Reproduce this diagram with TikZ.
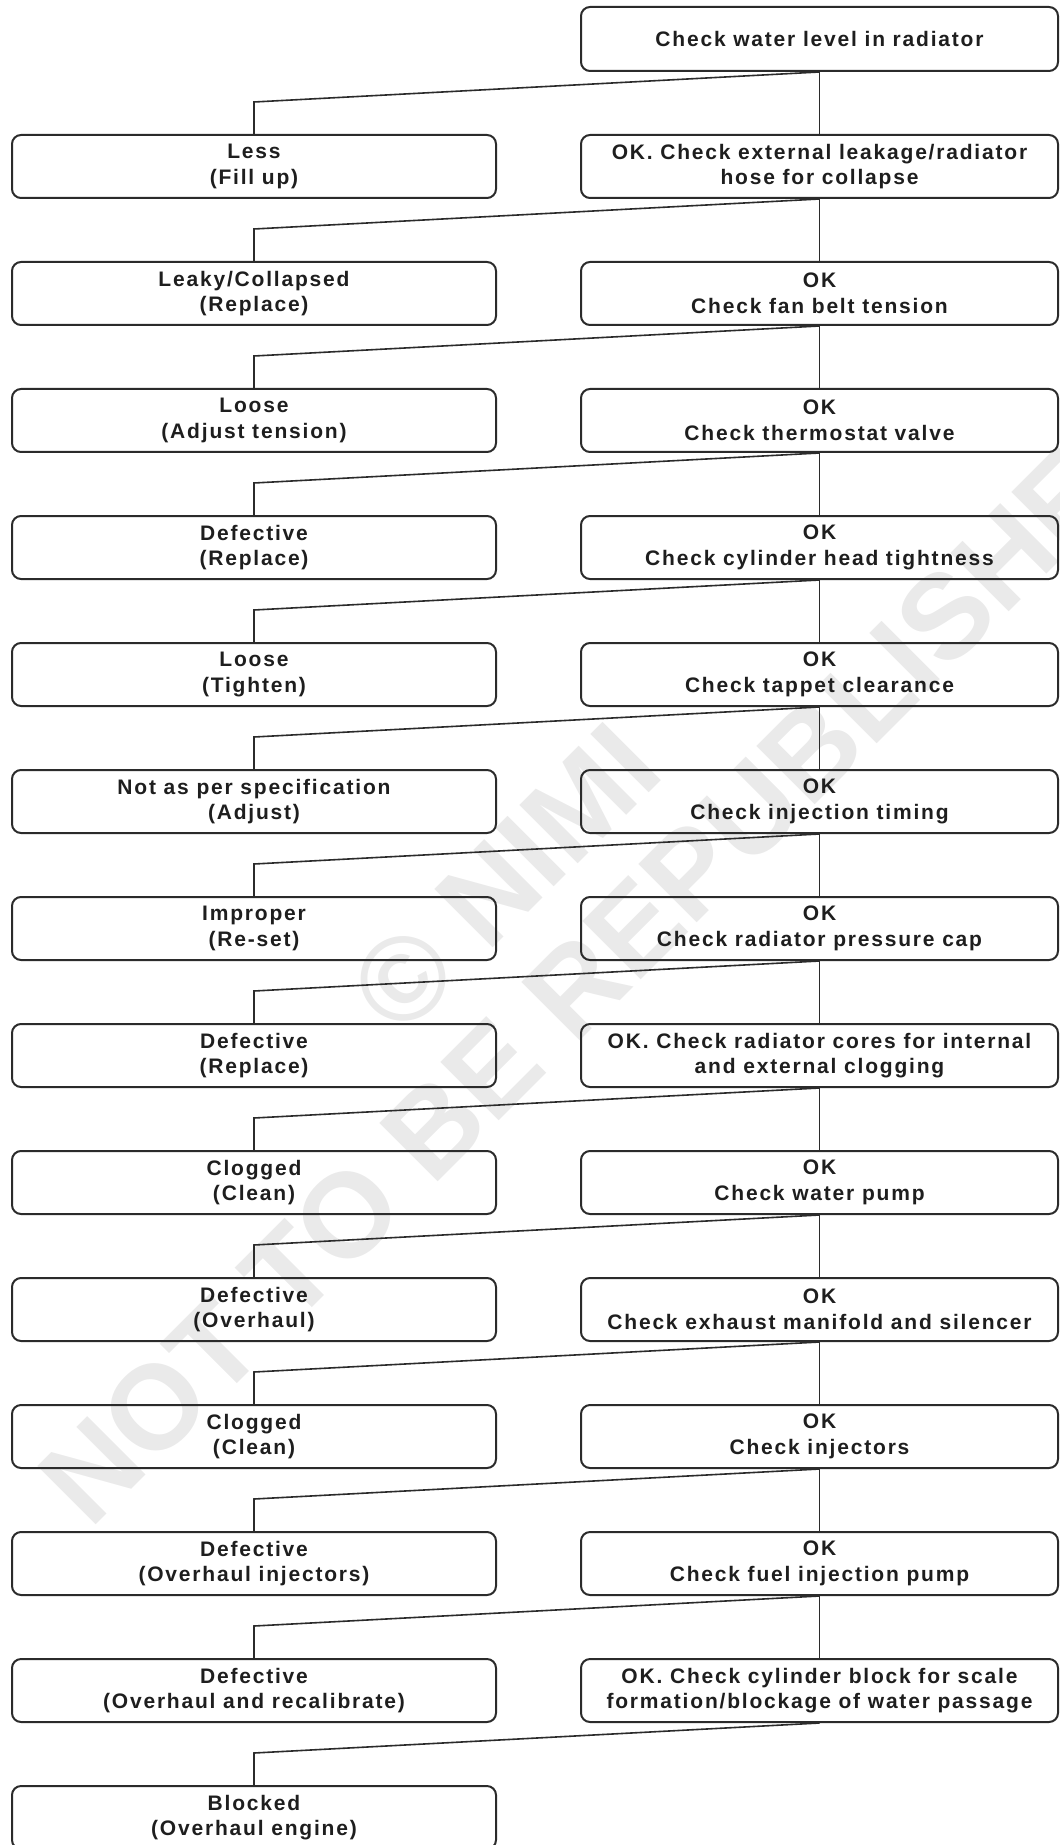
\documentclass[tikz,border=0pt]{standalone}
\usepackage{fontspec}
\usetikzlibrary{calc}
\newfontfamily\chartfont{Liberation Sans}[LetterSpace=8.6]
\newfontfamily\markfont{Liberation Sans}
\definecolor{inkline}{HTML}{2B2B2B}
\definecolor{inktext}{HTML}{1E1E1E}
\definecolor{markgray}{HTML}{EAEAEA}

\begin{document}
\begin{tikzpicture}[x=0.5pt, y=-0.5pt,
  box/.style={draw=inkline, line width=1pt, rounded corners=4.5pt,
    minimum height=31.5pt, inner sep=0pt, align=center, text=inktext,
    font={\chartfont\bfseries\fontsize{10.5pt}{12.8pt}\selectfont}},
  leftbox/.style={box, minimum width=242pt},
  rightbox/.style={box, minimum width=238.5pt},
  link/.style={draw=inkline, line width=0.8pt},
  wmark/.style={rotate=45, inner sep=0pt, text=markgray,
    font={\markfont\bfseries\fontsize{60pt}{60pt}\selectfont}}]

\useasboundingbox (0,0) rectangle (1059,1845);
\clip (0,0) rectangle (1059,1845);

% background watermark
\node[wmark] (wmA) at (505,878) {© NIMI};
\node[wmark] (wmB) at (607,955) {NOT TO BE REPUBLISHED};

% checks (right column)
\node[rightbox, minimum height=32pt] (c0) at (819.5,39) {Check water level in radiator};
\node[rightbox] (c1)  at (819.5,166.5)  {OK. Check external leakage/radiator\\hose for collapse};
\node[rightbox] (c2)  at (819.5,293.5)  {OK\\Check fan belt tension};
\node[rightbox] (c3)  at (819.5,420.5)  {OK\\Check thermostat valve};
\node[rightbox] (c4)  at (819.5,547.5)  {OK\\Check cylinder head tightness};
\node[rightbox] (c5)  at (819.5,674.5)  {OK\\Check tappet clearance};
\node[rightbox] (c6)  at (819.5,801.5)  {OK\\Check injection timing};
\node[rightbox] (c7)  at (819.5,928.5)  {OK\\Check radiator pressure cap};
\node[rightbox] (c8)  at (819.5,1055.5) {OK. Check radiator cores for internal\\and external clogging};
\node[rightbox] (c9)  at (819.5,1182.5) {OK\\Check water pump};
\node[rightbox] (c10) at (819.5,1309.5) {OK\\Check exhaust manifold and silencer};
\node[rightbox] (c11) at (819.5,1436.5) {OK\\Check injectors};
\node[rightbox] (c12) at (819.5,1563.5) {OK\\Check fuel injection pump};
\node[rightbox] (c13) at (819.5,1690.5) {OK. Check cylinder block for scale\\formation/blockage of water passage};

% remedies (left column)
\node[leftbox] (a1)  at (254,166.5)  {Less\\(Fill up)};
\node[leftbox] (a2)  at (254,293.5)  {Leaky/Collapsed\\(Replace)};
\node[leftbox] (a3)  at (254,420.5)  {Loose\\(Adjust tension)};
\node[leftbox] (a4)  at (254,547.5)  {Defective\\(Replace)};
\node[leftbox] (a5)  at (254,674.5)  {Loose\\(Tighten)};
\node[leftbox] (a6)  at (254,801.5)  {Not as per specification\\(Adjust)};
\node[leftbox] (a7)  at (254,928.5)  {Improper\\(Re-set)};
\node[leftbox] (a8)  at (254,1055.5) {Defective\\(Replace)};
\node[leftbox] (a9)  at (254,1182.5) {Clogged\\(Clean)};
\node[leftbox] (a10) at (254,1309.5) {Defective\\(Overhaul)};
\node[leftbox] (a11) at (254,1436.5) {Clogged\\(Clean)};
\node[leftbox] (a12) at (254,1563.5) {Defective\\(Overhaul injectors)};
\node[leftbox] (a13) at (254,1690.5) {Defective\\(Overhaul and recalibrate)};
\node[leftbox] (a14) at (254,1817.5) {Blocked\\(Overhaul engine)};

% branch to the remedy: slanted run, then straight down
\foreach \r [evaluate=\r as \p using int(\r-1)] in {1,...,14} {
  \coordinate (k\r) at ($(a\r.north)+(0,-32)$);
  \draw[link] (c\p.south) -- (k\r) -- (a\r.north);
}
% branch to the next check: straight down
\foreach \r [evaluate=\r as \p using int(\r-1)] in {1,...,13} {
  \draw[link] (c\p.south) -- (c\r.north);
}
\end{tikzpicture}
\end{document}
